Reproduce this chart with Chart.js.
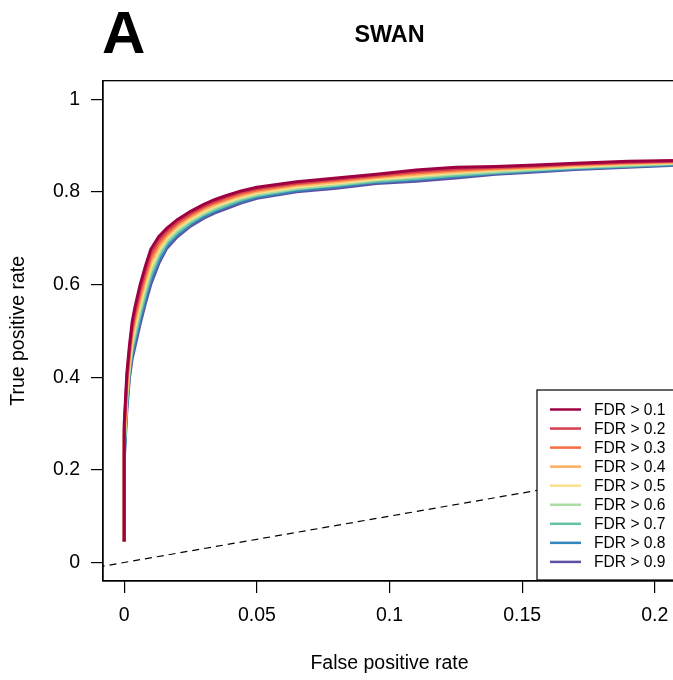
<!DOCTYPE html>
<html lang="en">
<head>
  <meta charset="UTF-8" />
  <title>SWAN ROC</title>
  <script src="https://cdn.jsdelivr.net/npm/chart.js"></script>
  <style>
    body { margin: 0; background: #fff; }
    #wrap { width: 673px; height: 680px; overflow: hidden; position: relative; }
  </style>
</head>
<body>
  <div id="wrap">
    <canvas id="roc" width="700" height="680" style="width:700px;height:680px"></canvas>
  </div>

  <script>
    // shared false positive rate grid
    const fpr = [0, 0, 0.001, 0.002, 0.003, 0.004, 0.006, 0.008, 0.010, 0.013, 0.016, 0.020, 0.025, 0.030,
                 0.034, 0.038, 0.044, 0.05, 0.065, 0.08, 0.095, 0.11, 0.125, 0.14, 0.155, 0.17, 0.19, 0.21];

    // true positive rate per FDR threshold
    const tpr01 = [0.045, 0.300, 0.410, 0.470, 0.520, 0.550, 0.600, 0.640, 0.676, 0.703, 0.721, 0.740, 0.758, 0.773,
                   0.783, 0.791, 0.802, 0.810, 0.822, 0.830, 0.838, 0.847, 0.853, 0.855, 0.858, 0.862, 0.866, 0.868];
    const tpr02 = [0.045, 0.290, 0.400, 0.461, 0.510, 0.539, 0.589, 0.630, 0.667, 0.696, 0.716, 0.735, 0.754, 0.769,
                   0.779, 0.788, 0.799, 0.807, 0.819, 0.827, 0.836, 0.844, 0.850, 0.853, 0.856, 0.860, 0.864, 0.867];
    const tpr03 = [0.045, 0.280, 0.390, 0.453, 0.500, 0.529, 0.579, 0.620, 0.657, 0.689, 0.710, 0.731, 0.750, 0.766,
                   0.776, 0.784, 0.796, 0.804, 0.817, 0.825, 0.833, 0.841, 0.847, 0.851, 0.854, 0.859, 0.863, 0.866];
    const tpr04 = [0.045, 0.270, 0.380, 0.444, 0.490, 0.518, 0.568, 0.610, 0.648, 0.681, 0.705, 0.726, 0.746, 0.762,
                   0.772, 0.781, 0.792, 0.801, 0.814, 0.822, 0.831, 0.838, 0.844, 0.849, 0.852, 0.857, 0.861, 0.864];
    const tpr05 = [0.045, 0.260, 0.370, 0.435, 0.480, 0.508, 0.558, 0.600, 0.638, 0.674, 0.700, 0.722, 0.742, 0.758,
                   0.769, 0.777, 0.789, 0.798, 0.811, 0.819, 0.828, 0.835, 0.842, 0.847, 0.851, 0.855, 0.860, 0.863];
    const tpr06 = [0.045, 0.250, 0.360, 0.426, 0.470, 0.497, 0.547, 0.590, 0.629, 0.667, 0.694, 0.717, 0.738, 0.754,
                   0.765, 0.774, 0.786, 0.795, 0.808, 0.816, 0.826, 0.832, 0.839, 0.844, 0.849, 0.853, 0.858, 0.862];
    const tpr07 = [0.045, 0.240, 0.350, 0.418, 0.460, 0.486, 0.536, 0.580, 0.619, 0.660, 0.689, 0.712, 0.734, 0.751,
                   0.761, 0.770, 0.783, 0.792, 0.806, 0.814, 0.823, 0.829, 0.836, 0.842, 0.847, 0.852, 0.856, 0.861];
    const tpr08 = [0.045, 0.230, 0.340, 0.409, 0.450, 0.476, 0.526, 0.570, 0.610, 0.652, 0.683, 0.708, 0.730, 0.747,
                   0.758, 0.767, 0.779, 0.789, 0.803, 0.811, 0.821, 0.826, 0.833, 0.840, 0.845, 0.850, 0.855, 0.859];
    const tpr09 = [0.045, 0.220, 0.330, 0.400, 0.440, 0.465, 0.515, 0.560, 0.600, 0.645, 0.678, 0.703, 0.726, 0.743,
                   0.754, 0.763, 0.776, 0.786, 0.800, 0.808, 0.818, 0.823, 0.830, 0.838, 0.843, 0.848, 0.853, 0.858];

    const seriesLabels = ['FDR > 0.1', 'FDR > 0.2', 'FDR > 0.3', 'FDR > 0.4', 'FDR > 0.5',
                          'FDR > 0.6', 'FDR > 0.7', 'FDR > 0.8', 'FDR > 0.9'];
    const seriesColors = ['#9E0142', '#D53E4F', '#F46D43', '#FDAE61', '#FEE08B',
                          '#ABDDA4', '#66C2A5', '#3288BD', '#5E4FA2'];

    // chance line y = x
    const diagX = [-0.01, 0.21];
    const diagY = [-0.01, 0.21];

    const xTicks = [0, 0.05, 0.1, 0.15, 0.2];
    const xTickLabels = ['0', '0.05', '0.1', '0.15', '0.2'];
    const yTicks = [0, 0.2, 0.4, 0.6, 0.8, 1];
    const yTickLabels = ['0', '0.2', '0.4', '0.6', '0.8', '1'];

    const FONT = '"Liberation Sans", Arial, Helvetica, sans-serif';
    Chart.defaults.font.family = FONT;
    Chart.defaults.color = '#000';

    const allTpr = [tpr01, tpr02, tpr03, tpr04, tpr05, tpr06, tpr07, tpr08, tpr09];
    const datasets = allTpr.map((s, k) => ({
      label: seriesLabels[k],
      data: fpr.map((x, i) => ({ x, y: s[i] })),
      borderColor: seriesColors[k],
      borderWidth: 3,
      pointRadius: 0,
      tension: 0,
      fill: false
    }));
    datasets.push({
      label: 'chance',
      data: diagX.map((x, i) => ({ x, y: diagY[i] })),
      borderColor: '#000',
      borderWidth: 1.2,
      borderDash: [7, 5],
      pointRadius: 0,
      fill: false
    });

    // R-style frame, panel letter and boxed legend
    const rPlot = {
      id: 'rPlot',
      afterDatasetsDraw(chart) {
        const { ctx, chartArea: a } = chart;
        ctx.save();
        ctx.strokeStyle = '#000';
        ctx.lineWidth = 1.3;
        ctx.strokeRect(a.left, a.top, a.right - a.left, a.bottom - a.top);

        // legend
        const lx = 537, ly = 390, lw = a.right - lx, lh = a.bottom - 1 - ly;
        ctx.fillStyle = '#fff';
        ctx.fillRect(lx, ly, lw, lh);
        ctx.lineWidth = 1.2;
        ctx.strokeRect(lx, ly, lw, lh);
        ctx.font = '15.6px ' + FONT;
        ctx.textBaseline = 'middle';
        ctx.textAlign = 'left';
        seriesLabels.forEach((lab, i) => {
          const y = 409.5 + i * 19.05;
          ctx.strokeStyle = seriesColors[i];
          ctx.lineWidth = 2.5;
          ctx.beginPath();
          ctx.moveTo(550, y);
          ctx.lineTo(581, y);
          ctx.stroke();
          ctx.fillStyle = '#000';
          ctx.fillText(lab, 594, y + 1);
        });

        ctx.font = 'bold 60px ' + FONT;
        ctx.textBaseline = 'alphabetic';
        ctx.fillStyle = '#000';
        ctx.fillText('A', 102, 53);
        ctx.restore();
      }
    };

    new Chart(document.getElementById('roc'), {
      type: 'line',
      data: { datasets },
      options: {
        responsive: false,
        animation: false,
        layout: { padding: { left: 0, right: 24, top: 0, bottom: 0 } },
        plugins: {
          legend: { display: false },
          tooltip: { enabled: false },
          title: {
            display: true,
            text: 'SWAN',
            fullSize: false,
            font: { size: 23.4, weight: 'bold' },
            padding: { top: 22, bottom: 30.6 }
          }
        },
        scales: {
          x: {
            type: 'linear',
            min: -0.008,
            max: 0.208,
            afterBuildTicks: s => { s.ticks = xTicks.map(v => ({ value: v })); },
            afterFit: s => { s.height = 99; },
            ticks: {
              font: { size: 19.5 },
              padding: 11,
              maxRotation: 0,
              callback: (v, i) => xTickLabels[i]
            },
            grid: { drawOnChartArea: false, drawTicks: true, tickLength: 12, color: '#000', lineWidth: 1.2 },
            border: { display: true, color: '#000', width: 1.3 },
            title: { display: true, text: 'False positive rate', font: { size: 19.5 }, padding: { top: 0, bottom: 4.3 } }
          },
          y: {
            type: 'linear',
            min: -0.04,
            max: 1.04,
            afterBuildTicks: s => { s.ticks = yTicks.map(v => ({ value: v })); },
            afterFit: s => { s.width = 103; },
            ticks: {
              font: { size: 19.5 },
              padding: 11,
              callback: (v, i) => yTickLabels[i]
            },
            grid: { drawOnChartArea: false, drawTicks: true, tickLength: 12, color: '#000', lineWidth: 1.2 },
            border: { display: true, color: '#000', width: 1.3 },
            title: { display: true, text: 'True positive rate', font: { size: 19.5 }, padding: { top: 6.5, bottom: 0 } }
          }
        }
      },
      plugins: [rPlot]
    });
  </script>
</body>
</html>
